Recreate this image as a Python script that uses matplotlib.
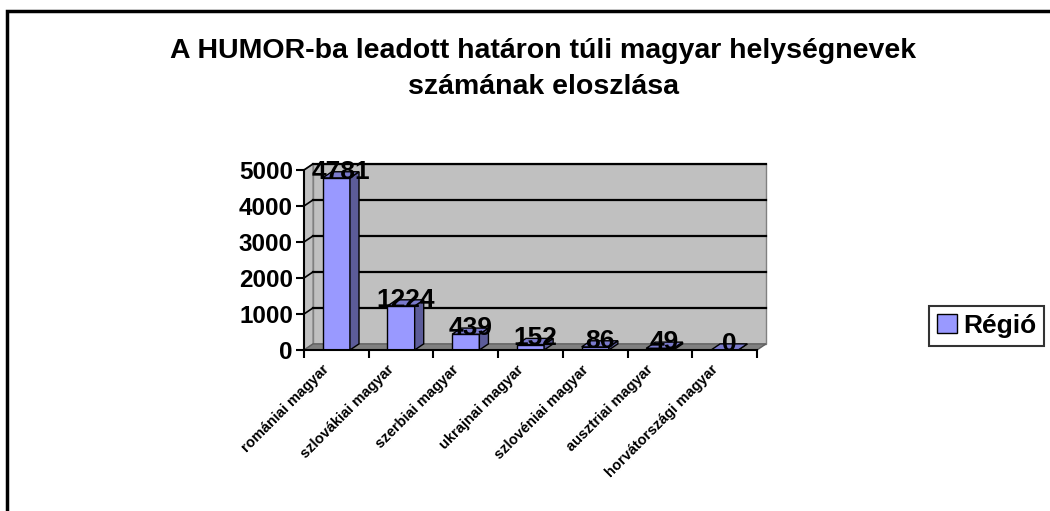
import matplotlib.pyplot as plt
from matplotlib.patches import Polygon, Rectangle
from matplotlib.transforms import ScaledTranslation
import numpy as np

plt.rcParams['font.family'] = ['Liberation Sans', 'DejaVu Sans']
plt.rcParams['font.weight'] = 'bold'

categories = ['romániai magyar', 'szlovákiai magyar', 'szerbiai magyar', 'ukrajnai magyar',
              'szlovéniai magyar', 'ausztriai magyar', 'horvátországi magyar']
values = [4781, 1224, 439, 152, 86, 49, 0]
yticks = [0, 1000, 2000, 3000, 4000, 5000]
series_name = 'Régió'
title = 'A HUMOR-ba leadott határon túli magyar helységnevek\nszámának eloszlása'

W, H = 1050, 511
fig = plt.figure(figsize=(W / 100, H / 100), dpi=100)
# outer chart border (cut at right and bottom like the screenshot)
fig.add_artist(Rectangle((7 / W, -0.02), 1.1, 1 - 11 / H + 0.02, transform=fig.transFigure,
                         fill=False, lw=2.5, ec='black'))

ax = fig.add_axes([304 / W, (H - 350) / H, 453 / W, 180 / H])
n = len(categories)
ax.set_xlim(-0.5, n - 0.5)
ax.set_ylim(0, 5000)
DX, DY = 0.14, 170  # depth offset in data units
x0, x1, top = -0.5, n - 0.5, 5000

wall = '#c0c0c0'
kw = dict(clip_on=False)
# back wall
ax.add_patch(Polygon([(x0 + DX, DY), (x1 + DX, DY), (x1 + DX, top + DY), (x0 + DX, top + DY)],
                     closed=True, fc=wall, ec='#808080', lw=1, zorder=1, **kw))
# left wall
ax.add_patch(Polygon([(x0, 0), (x0 + DX, DY), (x0 + DX, top + DY), (x0, top)],
                     closed=True, fc=wall, ec='#808080', lw=1, zorder=1, **kw))
# floor
ax.add_patch(Polygon([(x0, 0), (x1, 0), (x1 + DX, DY), (x0 + DX, DY)],
                     closed=True, fc='#808080', ec='#606060', lw=1, zorder=1, **kw))
for t in yticks[1:]:
    ax.plot([x0 + DX, x1 + DX], [t + DY, t + DY], color='black', lw=1.6, zorder=2, **kw)
    ax.plot([x0, x0 + DX], [t, t + DY], color='black', lw=1.2, zorder=2, **kw)

# bars with 3D faces
bw = 0.42
xs = np.arange(n)
ax.bar(xs, values, width=bw, color='#9999ff', edgecolor='black', lw=1, zorder=3)
for x, v in zip(xs, values):
    l, r = x - bw / 2, x + bw / 2
    ax.add_patch(Polygon([(r, 0), (r + DX, DY), (r + DX, v + DY), (r, v)], closed=True,
                         fc='#5c5c99', ec='black', lw=1, zorder=3, **kw))
    ax.add_patch(Polygon([(l, v), (r, v), (r + DX, v + DY), (l + DX, v + DY)], closed=True,
                         fc='#7a7acc', ec='black', lw=1, zorder=3, **kw))
    ax.text(x + DX / 2, v + DY, str(v), ha='center', va='center', fontsize=19,
            fontweight='bold', zorder=5, **kw)

for s in ['top', 'right']:
    ax.spines[s].set_visible(False)
ax.spines['left'].set_linewidth(1.5)
ax.spines['bottom'].set_linewidth(1.5)
ax.spines['left'].set_zorder(4)
ax.spines['bottom'].set_zorder(4)
ax.patch.set_visible(False)
ax.set_yticks(yticks)
ax.set_yticklabels([str(t) for t in yticks], fontsize=17.5, fontweight='bold')
ax.tick_params(axis='y', direction='out', length=6, width=1.5, pad=2)
ax.set_xticks(np.arange(n + 1) - 0.5)
ax.set_xticklabels([''] * (n + 1))
ax.tick_params(axis='x', direction='out', length=6, width=1.5)
ax.set_xticks(xs, minor=True)
ax.set_xticklabels(categories, minor=True, rotation=45, ha='right', rotation_mode='anchor',
                   fontsize=10.5, fontweight='bold')
ax.tick_params(axis='x', which='minor', length=0, pad=9)
shift = ScaledTranslation(-14 / 100, 0, fig.dpi_scale_trans)
for lbl in ax.get_xticklabels(minor=True):
    lbl.set_transform(lbl.get_transform() + shift)

fig.text(543 / W, 1 - 69 / H, title, ha='center', va='center', fontsize=20.5,
         fontweight='bold', linespacing=1.55)

leg = fig.legend([Rectangle((0, 0), 1, 1, fc='#9999ff', ec='black')], [series_name],
                 loc='center left', bbox_to_anchor=(929 / W, 1 - 326 / H), fontsize=19,
                 frameon=True, fancybox=False, edgecolor='black', handlelength=0.75,
                 handleheight=0.75, handletextpad=0.25, borderpad=0.3, borderaxespad=0)
leg.get_frame().set_linewidth(1.5)
for t in leg.get_texts():
    t.set_fontweight('bold')

fig.savefig('out.png', dpi=100)
